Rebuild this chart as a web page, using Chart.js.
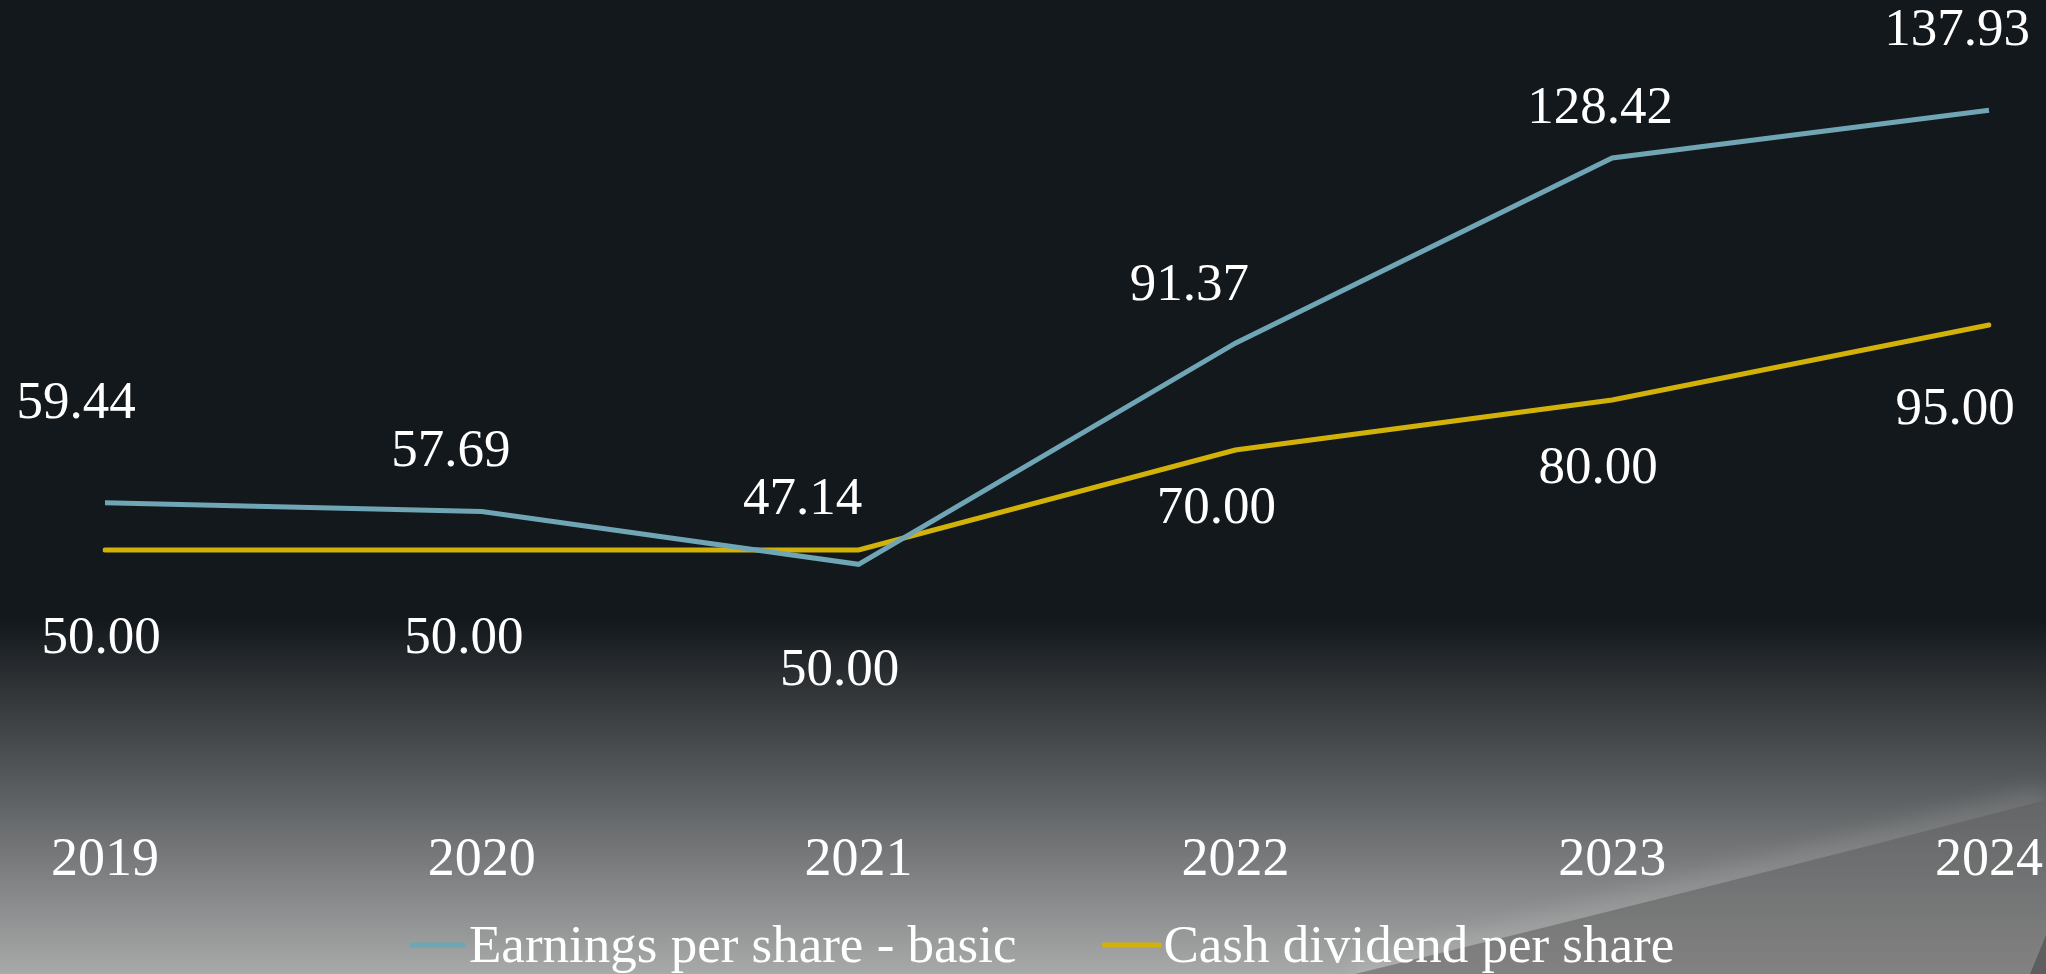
<!DOCTYPE html>
<html>
<head>
<meta charset="utf-8">
<script src="https://cdn.jsdelivr.net/npm/chart.js@4.4.1/dist/chart.umd.min.js"></script>
<style>
  html, body { margin: 0; padding: 0; background: #13181c; }
  #wrap { width: 2046px; height: 974px; position: relative; }
</style>
</head>
<body>
<div id="wrap"><canvas id="chart"></canvas></div>
<script>
// data
const years = ["2019", "2020", "2021", "2022", "2023", "2024"];
const epsBasic = [59.44, 57.69, 47.14, 91.37, 128.42, 137.93];
const cashDividend = [50.0, 50.0, 50.0, 70.0, 80.0, 95.0];
const seriesNames = ["Earnings per share - basic", "Cash dividend per share"];

// where Excel put each data label, relative to its point (px)
const labelShift = [
  [[-29, -99], [-31, -59], [-56, -64], [-46, -57], [-12, -49], [-32, -79]],
  [[-4, 89], [-18, 89], [-19, 121], [-19, 59], [-14, 69], [-34, 85]],
];

const FONT = "'Liberation Serif', 'Times New Roman', serif";
const BLUE = "rgb(111, 165, 180)";
const GOLD = "rgb(210, 178, 8)";

// slide background: dark top, grey gradient at the bottom and a swoosh bottom-right
const slideBackground = {
  id: "slideBackground",
  beforeDraw(chart) {
    const { ctx, width, height } = chart;
    ctx.save();
    ctx.fillStyle = "#13181c";
    ctx.fillRect(0, 0, width, height);

    const g = ctx.createLinearGradient(0, 620, 0, height);
    g.addColorStop(0, "#13181c");
    g.addColorStop(1, "#a8a9a9");
    ctx.fillStyle = g;
    ctx.fillRect(0, 620, width, height - 620);

    const swoosh = () => {
      ctx.beginPath();
      ctx.moveTo(1355, height);
      ctx.quadraticCurveTo(1700, 890, width, 800);
    };

    // soft glow along the swoosh edge
    ctx.save();
    ctx.filter = "blur(10px)";
    swoosh();
    ctx.strokeStyle = "rgba(255,255,255,0.10)";
    ctx.lineWidth = 30;
    ctx.stroke();
    ctx.restore();

    // darker region below the swoosh
    const d = ctx.createLinearGradient(0, 800, 0, height);
    d.addColorStop(0, "#636566");
    d.addColorStop(1, "#828282");
    swoosh();
    ctx.lineTo(width, height);
    ctx.closePath();
    ctx.fillStyle = d;
    ctx.fill();

    ctx.beginPath();
    ctx.moveTo(2030, height);
    ctx.quadraticCurveTo(2038, 955, width, 935);
    ctx.lineTo(width, height);
    ctx.closePath();
    ctx.fillStyle = "#5e5e5e";
    ctx.fill();
    ctx.restore();
  },
};

// value labels next to every point
const valueLabels = {
  id: "valueLabels",
  afterDatasetsDraw(chart) {
    const { ctx } = chart;
    ctx.save();
    ctx.font = "53px " + FONT;
    ctx.fillStyle = "#ffffff";
    ctx.textAlign = "center";
    ctx.textBaseline = "middle";
    chart.data.datasets.forEach((ds, i) => {
      const meta = chart.getDatasetMeta(i);
      meta.data.forEach((pt, j) => {
        const s = labelShift[i][j];
        ctx.fillText(ds.data[j].toFixed(2), pt.x + s[0], pt.y + s[1]);
      });
    });
    ctx.restore();
  },
};

// legend as in the slide: line marker butting against the text
const slideLegend = {
  id: "slideLegend",
  afterDraw(chart) {
    const { ctx } = chart;
    const markW = 57, gap = 3, itemGap = 87, y = 962, markY = 945;
    ctx.save();
    ctx.font = "53px " + FONT;
    let x = 409;
    chart.data.datasets.forEach((ds) => {
      const w = ctx.measureText(ds.label).width;
      ctx.beginPath();
      ctx.strokeStyle = ds.borderColor;
      ctx.lineWidth = 5;
      ctx.lineCap = ds.borderCapStyle || "butt";
      ctx.moveTo(x + 1, markY);
      ctx.lineTo(x + markW - 1, markY);
      ctx.stroke();
      ctx.fillStyle = "#ffffff";
      ctx.textAlign = "left";
      ctx.textBaseline = "alphabetic";
      ctx.fillText(ds.label, x + markW + gap, y);
      x += markW + gap + w + itemGap;
    });
    ctx.restore();
  },
};

new Chart(document.getElementById("chart"), {
  type: "line",
  data: {
    labels: years,
    datasets: [
      {
        label: seriesNames[0],
        data: epsBasic,
        borderColor: BLUE,
        backgroundColor: BLUE,
        borderWidth: 5,
        borderCapStyle: "butt",
        pointRadius: 0,
        tension: 0,
      },
      {
        label: seriesNames[1],
        data: cashDividend,
        borderColor: GOLD,
        backgroundColor: GOLD,
        borderWidth: 5,
        borderCapStyle: "round",
        pointRadius: 0,
        tension: 0,
      },
    ],
  },
  options: {
    responsive: true,
    maintainAspectRatio: false,
    animation: false,
    layout: { padding: { left: 105, right: 57, top: 0, bottom: 52 } },
    plugins: {
      legend: { display: false },
      tooltip: { enabled: false },
    },
    scales: {
      x: {
        offset: false,
        grid: { display: false, drawTicks: false },
        border: { display: false },
        afterFit(scale) {
          scale.height = 122;
          scale.paddingLeft = 0;
          scale.paddingRight = 0;
        },
        ticks: {
          color: "#ffffff",
          padding: 0,
          font: { family: FONT, size: 54, lineHeight: 2.26 },
          maxRotation: 0,
          autoSkip: false,
        },
      },
      y: {
        display: false,
        min: 0,
        max: 160,
      },
    },
  },
  plugins: [slideBackground, valueLabels, slideLegend],
});
</script>
</body>
</html>
